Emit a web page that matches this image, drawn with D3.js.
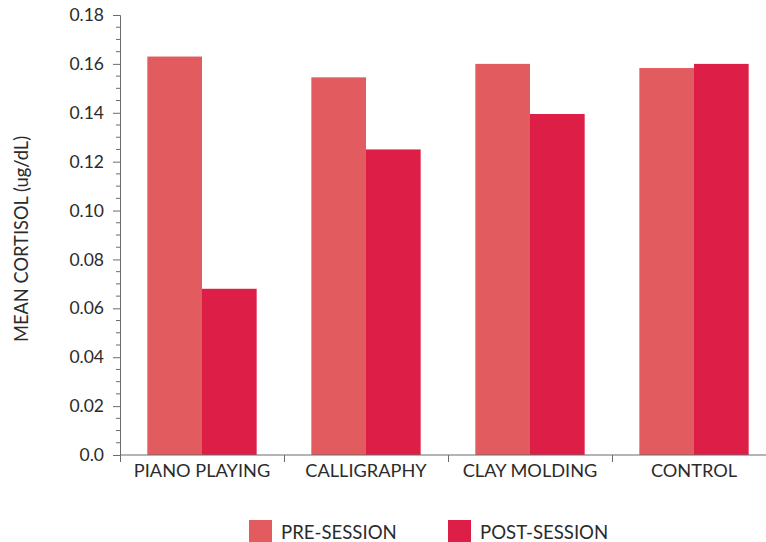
<!DOCTYPE html>
<html>
<head>
<meta charset="utf-8">
<script src="https://cdn.jsdelivr.net/npm/d3@7"></script>
<style>
  html, body { margin: 0; padding: 0; background: #fff; }
  svg { display: block; font-family: Lato, "Open Sans", sans-serif; }
</style>
</head>
<body>
<svg id="chart" width="766" height="542"></svg>
<script>
// Mean salivary cortisol before and after each activity session
const categories = ["PIANO PLAYING", "CALLIGRAPHY", "CLAY MOLDING", "CONTROL"];
const seriesNames = ["PRE-SESSION", "POST-SESSION"];
const preSession = [0.163, 0.1545, 0.160, 0.1583];
const postSession = [0.068, 0.125, 0.1395, 0.160];
const yTickValues = [0, 0.02, 0.04, 0.06, 0.08, 0.10, 0.12, 0.14, 0.16, 0.18];
const seriesColors = ["#E25B5F", "#DD1F47"];

const svg = d3.select("#chart");
const textColor = "#2b2b2b";
const axisColor = "#6b6b6b";

const plotLeft = 120, plotRight = 776, plotTop = 15, plotBottom = 455;

const y = d3.scaleLinear().domain([0, 0.18]).range([plotBottom, plotTop]);
const x = d3.scaleBand().domain(categories).range([plotLeft, plotRight]).paddingInner(0).paddingOuter(0);
const xSub = d3.scaleBand().domain(seriesNames).range([0, x.bandwidth()]).paddingInner(0).paddingOuter(0.5);

const values = [preSession, postSession];

// Bars
seriesNames.forEach((s, si) => {
  svg.append("g")
    .selectAll("rect")
    .data(categories.map((c, i) => ({ c, v: values[si][i] })))
    .join("rect")
    .attr("x", d => x(d.c) + xSub(s))
    .attr("width", xSub.bandwidth())
    .attr("y", d => y(d.v))
    .attr("height", d => y(0) - y(d.v))
    .attr("fill", seriesColors[si]);
});

// Y axis with minor ticks
const minorTicks = d3.range(0, 0.18 + 1e-9, 0.005).filter(v => Math.abs(Math.round(v / 0.02) * 0.02 - v) > 1e-6);
const yMinor = svg.append("g").attr("transform", `translate(${plotLeft},0)`);
yMinor.selectAll("line")
  .data(minorTicks)
  .join("line")
  .attr("x1", -4).attr("x2", 0)
  .attr("y1", d => y(d)).attr("y2", d => y(d))
  .attr("stroke", axisColor).attr("stroke-width", 1);

const yAxis = svg.append("g")
  .attr("transform", `translate(${plotLeft},0)`)
  .call(d3.axisLeft(y).tickValues(yTickValues).tickSize(7).tickPadding(9)
    .tickFormat(d => d === 0 ? "0.0" : d3.format(".2f")(d)));
yAxis.select(".domain").attr("stroke", axisColor);
yAxis.selectAll(".tick line").attr("stroke", axisColor);
yAxis.selectAll(".tick text").attr("fill", textColor).style("font-size", "17.5px").style("font-family", "Lato, sans-serif");

// X axis: baseline across the plot, ticks at category boundaries
svg.append("line")
  .attr("x1", plotLeft).attr("x2", 766)
  .attr("y1", y(0)).attr("y2", y(0))
  .attr("stroke", axisColor);
svg.append("g")
  .selectAll("line")
  .data(categories)
  .join("line")
  .attr("x1", d => x(d) + 0.5).attr("x2", d => x(d) + 0.5)
  .attr("y1", y(0)).attr("y2", y(0) + 7)
  .attr("stroke", axisColor);
svg.append("g")
  .selectAll("text")
  .data(categories)
  .join("text")
  .attr("x", d => x(d) + x.bandwidth() / 2)
  .attr("y", y(0) + 22)
  .attr("text-anchor", "middle")
  .attr("fill", textColor)
  .style("font-size", "18.2px")
  .text(d => d);

// Y axis title
svg.append("text")
  .attr("transform", `translate(28,${(plotTop + plotBottom) / 2 + 4}) rotate(-90)`)
  .attr("text-anchor", "middle")
  .attr("fill", textColor)
  .style("font-size", "18.3px")
  .text("MEAN CORTISOL (ug/dL)");

// Legend
const legendItems = [
  { name: seriesNames[0], color: seriesColors[0], x: 249 },
  { name: seriesNames[1], color: seriesColors[1], x: 448 }
];
const legend = svg.append("g");
legend.selectAll("rect")
  .data(legendItems)
  .join("rect")
  .attr("x", d => d.x).attr("y", 520)
  .attr("width", 23).attr("height", 22)
  .attr("fill", d => d.color);
legend.selectAll("text")
  .data(legendItems)
  .join("text")
  .attr("x", d => d.x + 32).attr("y", 538.5)
  .attr("fill", textColor)
  .style("font-size", "18.6px")
  .text(d => d.name);
</script>
</body>
</html>
